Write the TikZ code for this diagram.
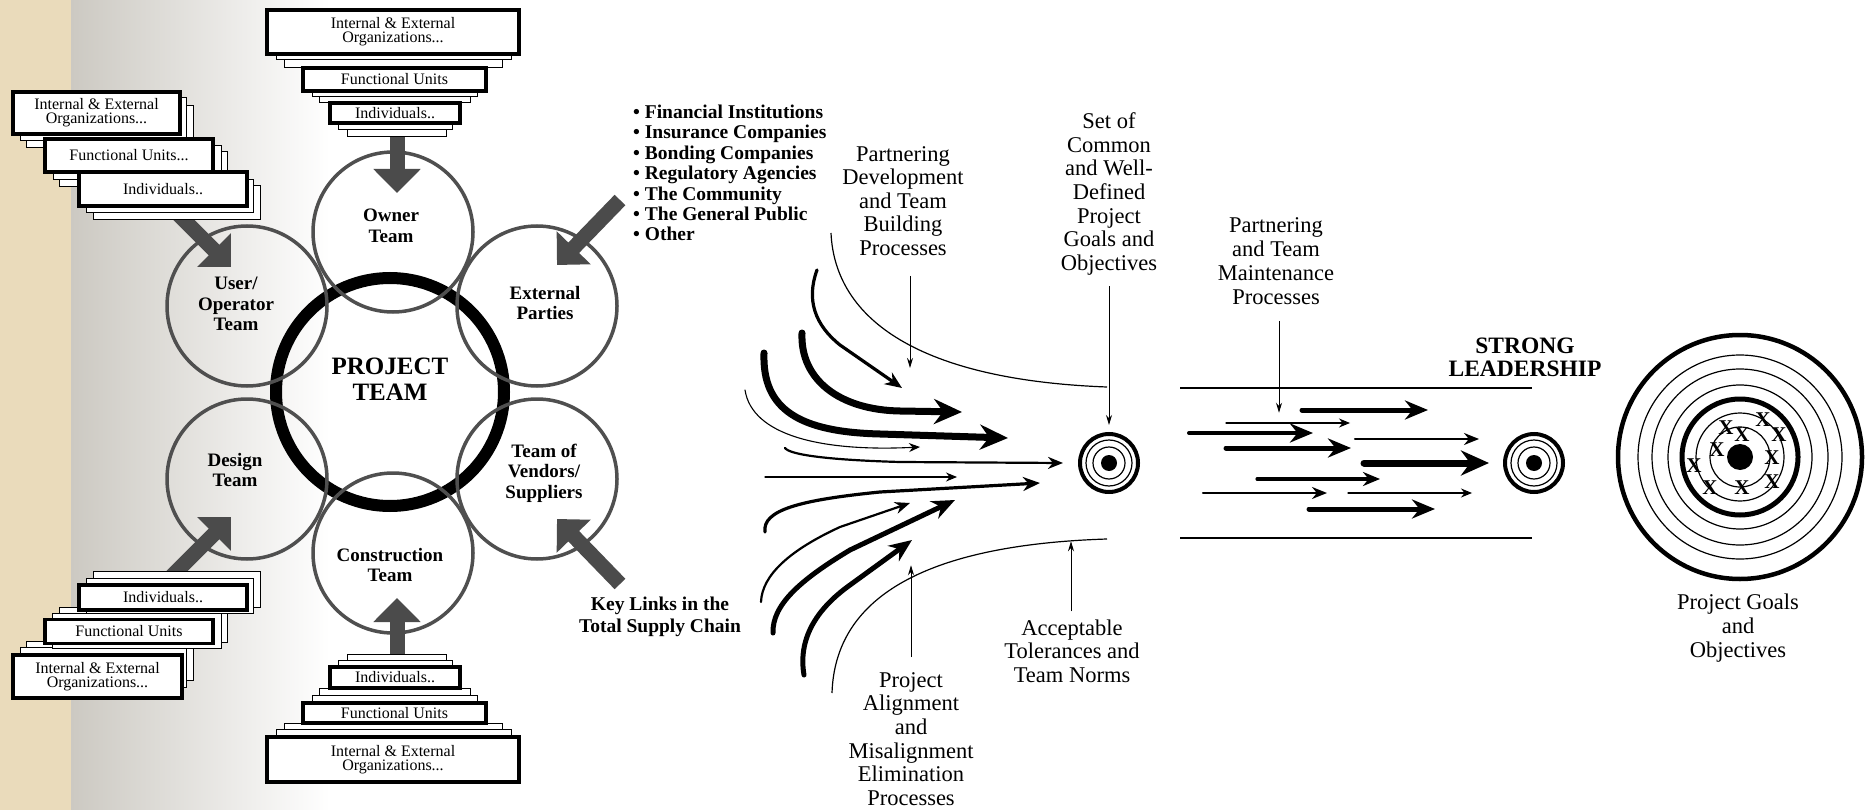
\documentclass[tikz,border=0pt]{standalone}
\usepackage{fontspec}
\setmainfont{Liberation Serif}
\usepackage{tikz}
\usetikzlibrary{arrows.meta}
\definecolor{parchment}{HTML}{EADBBB}
\definecolor{shadegray}{HTML}{CCC9C2}
\definecolor{ringgray}{HTML}{4F4F4F}
\definecolor{feedgray}{HTML}{4B4B4B}

\begin{document}
\begin{tikzpicture}[x=1pt,y=-1pt,
  every node/.style={align=center,inner sep=0pt},
  card/.style={draw,fill=white,line width=1pt,font=\fontsize{16}{14}\selectfont},
  frontcard/.style={card,line width=3.5pt},
  teamring/.style={circle,draw=ringgray,line width=3.5pt,minimum size=160pt},
  teamlbl/.style={font=\fontsize{19}{20.5}\selectfont\bfseries},
  corelbl/.style={font=\fontsize{25}{26}\selectfont\bfseries},
  feed/.style={draw=feedgray,line width=15pt,-{Triangle[length=24pt,width=46pt]}},
  note/.style={font=\fontsize{22.5}{23.6}\selectfont},
  boldnote/.style={font=\fontsize{19.5}{20.4}\selectfont\bfseries},
  pointer/.style={line width=0.9pt,-{Stealth[length=10pt,width=6pt]}},
  guide/.style={line width=1.2pt},
  flowxs/.style={line width=1.1pt,line cap=round,-{Stealth[length=11pt,width=9pt]}},
  flows/.style={line width=2.2pt,line cap=round,-{Stealth[length=15pt,width=12pt]}},
  flowm/.style={line width=3.2pt,line cap=round,-{Stealth[length=17pt,width=14pt]}},
  flowl/.style={line width=5pt,line cap=round,-{Stealth[length=23pt,width=19pt]}},
  flowxl/.style={line width=7pt,line cap=round,-{Stealth[length=28pt,width=25pt]}},
  hit/.style={font=\fontsize{21}{21}\selectfont\bfseries}
]
  \useasboundingbox (0,0) rectangle (1871,810);
  % background strip
  \fill[parchment] (0,0) rectangle (71,810);
  \shade[left color=shadegray,right color=white] (71,0) rectangle (330,810);

  % project team and the six teams
  \node[circle,draw,line width=12pt,minimum size=228pt] (corering) at (390,392) {};
  \node[teamring] (ownerring) at (393,232) {};
  \node[teamring] (userring) at (247,306) {};
  \node[teamring] (extring) at (537,306) {};
  \node[teamring] (designring) at (247,479) {};
  \node[teamring] (vendorring) at (537,479) {};
  \node[teamring] (buildring) at (393,553) {};
  \node[corelbl] (core) at (390,379) {PROJECT\\TEAM};
  \node[teamlbl] (owner) at (391,226) {Owner\\Team};
  \node[teamlbl] (user) at (236,304) {User/\\Operator\\Team};
  \node[teamlbl] (ext) at (545,303) {External\\Parties};
  \node[teamlbl] (design) at (235,470) {Design\\Team};
  \node[teamlbl] (vendor) at (544,473) {Team of\\Vendors/\\Suppliers};
  \node[teamlbl] (build) at (390,565) {Construction\\Team};

  % feeding arrows
  \coordinate (ownerfeed) at (397,137);
  \coordinate (buildfeed) at (397,654);
  \coordinate (userfeed) at (172,208);
  \coordinate (designfeed) at (172,576);
  \coordinate (extfeed) at (620,200);
  \coordinate (vendorfeed) at (620,584);
  \draw[feed] (ownerfeed) -- (397,193);
  \draw[feed] (buildfeed) -- (397,598);
  \draw[feed] (userfeed) -- (231,267);
  \draw[feed] (designfeed) -- (231,517);
  \draw[feed] (extfeed) -- (557,265);
  \draw[feed] (vendorfeed) -- (557,519);

  % owner stack
  \draw[card] (276,54) rectangle (511,60);
  \draw[card] (284,60) rectangle (502,68);
  \draw[card] (312,91) rectangle (477,97);
  \draw[card] (319,97) rectangle (470,103);
  \draw[card] (338,123) rectangle (452,130);
  \draw[card] (347,130) rectangle (446,137);
  \node[frontcard,minimum width=252pt,minimum height=44pt] (ietop) at (393,32) {Internal \& External\\Organizations...};
  \node[frontcard,minimum width=183pt,minimum height=23pt] (futop) at (394.5,79.5) {Functional Units};
  \node[frontcard,minimum width=130pt,minimum height=20pt] (intop) at (395,113) {Individuals..};

  % construction stack
  \draw[card] (347,654) rectangle (446,660);
  \draw[card] (338,660) rectangle (452,667);
  \draw[card] (319,688) rectangle (470,695);
  \draw[card] (312,695) rectangle (477,703);
  \draw[card] (284,723) rectangle (502,729);
  \draw[card] (276,729) rectangle (511,737);
  \node[frontcard,minimum width=130pt,minimum height=21pt] (inbot) at (395,677.5) {Individuals..};
  \node[frontcard,minimum width=183pt,minimum height=20pt] (fubot) at (394.5,713) {Functional Units};
  \node[frontcard,minimum width=252pt,minimum height=45pt] (iebot) at (393,759.5) {Internal \& External\\Organizations...};

  % user stack
  \draw[card] (26,106) rectangle (193,148);
  \draw[card] (20,98) rectangle (186,141);
  \node[frontcard,minimum width=167pt,minimum height=42pt] (ieuser) at (96.5,113) {Internal \& External\\Organizations...};
  \draw[card] (59,152) rectangle (227,187);
  \draw[card] (53,146) rectangle (221,180);
  \node[frontcard,minimum width=168pt,minimum height=33pt] (fuuser) at (129,155.5) {Functional Units...};
  \draw[card] (93,186) rectangle (260,220);
  \draw[card] (86,180) rectangle (253,213);
  \node[frontcard,minimum width=168pt,minimum height=34pt] (inuser) at (163,189) {Individuals..};

  % design stack
  \draw[card] (26,641) rectangle (193,680);
  \draw[card] (20,647) rectangle (186,687);
  \node[frontcard,minimum width=169pt,minimum height=43pt] (iedesign) at (97.5,676.5) {Internal \& External\\Organizations...};
  \draw[card] (59,607) rectangle (227,642);
  \draw[card] (52,613) rectangle (221,648);
  \node[frontcard,minimum width=168pt,minimum height=24pt] (fudesign) at (129,631.5) {Functional Units};
  \draw[card] (93,571) rectangle (260,607);
  \draw[card] (86,578) rectangle (253,613);
  \node[frontcard,minimum width=168pt,minimum height=25pt] (indesign) at (163,597.5) {Individuals..};

  \node[boldnote,anchor=west,align=left] (parties) at (633,173) {\textbullet{} Financial Institutions\\\textbullet{} Insurance Companies\\\textbullet{} Bonding Companies\\\textbullet{} Regulatory Agencies\\\textbullet{} The Community\\\textbullet{} The General Public\\\textbullet{} Other};
  \node[boldnote,font=\fontsize{19.5}{22}\selectfont\bfseries] (supply) at (660,617) {Key Links in the\\Total Supply Chain};

  % alignment funnel
  \draw[guide] (831,233) .. controls (835,320) and (920,380) .. (1107,387);
  \draw[guide] (832,693) .. controls (835,600) and (920,545) .. (1107,539);
  \draw[flowm] (817,270) .. controls (806,300) and (815,325) .. (840,345) -- (902,388);
  \draw[flowxl] (802,333) .. controls (800,380) and (840,410) .. (900,411) -- (962,412);
  \draw[flowxl] (764,353) .. controls (762,410) and (800,432) .. (880,434) -- (1008,438);
  \draw[flowxs] (745,390) .. controls (752,435) and (820,452) .. (920,447);
  \draw[flows] (785,448) .. controls (790,455) and (830,460) .. (900,462) -- (1063,463);
  \draw[flowxs] (765,477) -- (957,477);
  \draw[flowm] (765,532) .. controls (762,510) and (800,500) .. (880,492) -- (1040,483);
  \draw[flows] (761,602) .. controls (762,575) and (790,550) .. (840,527) -- (910,503);
  \draw[flowl] (773,633) .. controls (772,605) and (800,580) .. (850,550) -- (955,500);
  \draw[flowl] (804,675) .. controls (798,640) and (815,610) .. (850,585) -- (912,540);

  \node[note] (pdev) at (903,201) {Partnering\\Development\\and Team\\Building\\Processes};
  \node[note] (setlbl) at (1109,194) {Set of\\Common\\and Well-\\Defined\\Project\\Goals and\\Objectives};
  \node[note] (palign) at (911,739) {Project\\Alignment\\and\\Misalignment\\Elimination\\Processes};
  \node[note] (accept) at (1072,651) {Acceptable\\Tolerances and\\Team Norms};

  \node[circle,draw,line width=4pt,minimum size=58pt] (goal) at (1109,463) {};
  \draw[guide] (goal) circle[radius=23pt] (goal) circle[radius=16pt];
  \fill (goal) circle[radius=8pt];

  \draw[pointer] ([xshift=7pt,yshift=-20pt]pdev.south) -- ++(0,92);
  \draw[pointer] ([yshift=-11pt]setlbl.south) -- ([yshift=7pt]goal.north);
  \draw[pointer] ([yshift=15pt]palign.north) -- ++(0,-92);
  \draw[pointer] ([xshift=-1pt,yshift=8pt]accept.north) -- ++(0,-70);

  % maintenance channel
  \draw[guide] (1180,388) -- (1532,388);
  \draw[guide] (1180,538) -- (1532,538);
  \node[note,font=\fontsize{22.5}{24}\selectfont] (pmaint) at (1276,261) {Partnering\\and Team\\Maintenance\\Processes};
  \draw[pointer] ([xshift=3pt,yshift=-16pt]pmaint.south) -- ++(0,92);
  \draw[flowl] (1302,410) -- (1428,410);
  \draw[flowxs] (1226,423) -- (1350,423);
  \draw[flowl,line width=4pt] (1189,433) -- (1313,433);
  \draw[flowl] (1226,448) -- (1351,448);
  \draw[flows] (1355,439) -- (1479,439);
  \draw[flowxl] (1364,463) -- (1489,463);
  \draw[flowm] (1257,479) -- (1380,479);
  \draw[flows] (1203,493) -- (1327,493);
  \draw[flowxs] (1348,493) -- (1472,493);
  \draw[flowl] (1309,509) -- (1435,509);

  \node[circle,draw,line width=4pt,minimum size=58pt] (goal2) at (1534,463) {};
  \draw[guide] (goal2) circle[radius=23pt] (goal2) circle[radius=16pt];
  \fill (goal2) circle[radius=8pt];
  \node[font=\fontsize{23.5}{23}\selectfont\bfseries] (lead) at (1525,357) {STRONG\\LEADERSHIP};

  % project goals target
  \node[circle,draw,line width=4.5pt,minimum size=244pt] (target) at (1740,457) {};
  \draw[guide] (target) circle[radius=102pt] (target) circle[radius=88pt] (target) circle[radius=72pt];
  \draw[line width=5pt] (target) circle[radius=58pt];
  \draw[guide] (target) circle[radius=44pt] (target) circle[radius=30pt];
  \fill (target) circle[radius=13pt];
  \node[hit] (mk1) at (1726,428) {X};
  \node[hit] (mk2) at (1742,435) {X};
  \node[hit] (mk3) at (1763,420) {X};
  \node[hit] (mk4) at (1779,435) {X};
  \node[hit] (mk5) at (1717,450) {X};
  \node[hit] (mk6) at (1772,458) {X};
  \node[hit] (mk7) at (1694,466) {X};
  \node[hit] (mk8) at (1772,482) {X};
  \node[hit] (mk9) at (1710,488) {X};
  \node[hit] (mk10) at (1742,488) {X};
  \node[note] (goals) at (1738,628) {Project Goals\\and\\Objectives};
\end{tikzpicture}
\end{document}
